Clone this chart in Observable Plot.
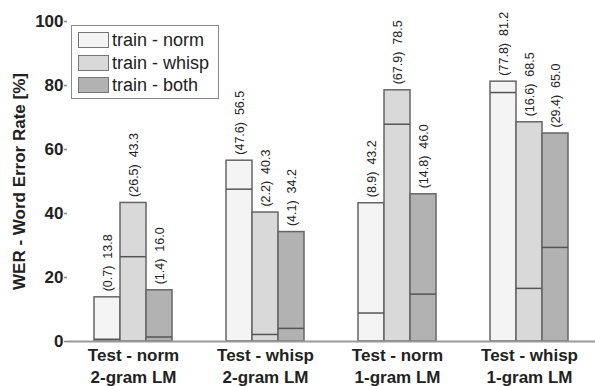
<!DOCTYPE html>
<html>
<head>
<meta charset="utf-8">
<script src="https://cdn.jsdelivr.net/npm/d3@7"></script>
<script src="https://cdn.jsdelivr.net/npm/@observablehq/plot@0.6"></script>
<style>
  html, body { margin: 0; padding: 0; background: #fff; }
  #wrap { position: relative; width: 595px; height: 386px; font-family: Arial, "Liberation Sans", sans-serif; }
  #legend { position: absolute; left: 71px; top: 25px; width: 146px; height: 72px; border: 1.5px solid #8a8a8a; background: #fff; }
  .row { position: absolute; left: 6px; height: 18px; display: flex; align-items: center; }
  .sw { width: 31px; height: 16px; border: 1.5px solid #777; box-sizing: border-box; margin-right: 3px; }
  .lab { font-size: 18px; color: #222; line-height: 18px; }
</style>
</head>
<body>
<div id="wrap"><div id="chart"></div><div id="legend"></div></div>
<script>
const groups = ["Test - norm\n2-gram LM", "Test - whisp\n2-gram LM", "Test - norm\n1-gram LM", "Test - whisp\n1-gram LM"];
const series = ["train - norm", "train - whisp", "train - both"];
const totals = [[13.8, 43.3, 16.0], [56.5, 40.3, 34.2], [43.2, 78.5, 46.0], [81.2, 68.5, 65.0]];
const subs = [[0.7, 26.5, 1.4], [47.6, 2.2, 4.1], [8.9, 67.9, 14.8], [77.8, 16.6, 29.4]];
const yTicks = [0, 20, 40, 60, 80, 100];
const colors = ["#f4f4f4", "#d9d9d9", "#b2b2b2"];

const data = [];
groups.forEach((g, i) => series.forEach((s, j) => data.push({group: g, series: s, total: totals[i][j], sub: subs[i][j]})));

const chart = Plot.plot({
  width: 595, height: 386,
  marginLeft: 67, marginRight: 0, marginTop: 21, marginBottom: 45,
  style: {fontFamily: "Arial, 'Liberation Sans', sans-serif", color: "#222", background: "#fff"},
  fx: {domain: groups, padding: 0, label: null},
  x: {domain: series, paddingInner: 0, paddingOuter: 0.99, axis: null},
  y: {domain: [0, 100], label: null},
  color: {domain: series, range: colors},
  marks: [
    Plot.barY(data, {fx: "group", x: "series", y: "total", fill: "series", stroke: "#666", strokeWidth: 1.5}),
    Plot.tickY(data, {fx: "group", x: "series", y: "sub", stroke: "#555", strokeWidth: 1.5}),
    Plot.text(data, {fx: "group", x: "series", y: "total", text: d => `(${d.sub.toFixed(1)})  ${d.total.toFixed(1)}`,
      rotate: -90, textAnchor: "start", dy: -6, fontSize: 12.5, fill: "#222"}),
    Plot.ruleY([0], {stroke: "#999", strokeWidth: 2}),
    Plot.axisY({ticks: yTicks, tickSize: 3, tickPadding: 1, line: true, stroke: "#888", strokeWidth: 1.5,
      fontSize: 17, fontWeight: "bold", label: "WER - Word Error Rate [%]", labelAnchor: "center", labelOffset: 55, labelArrow: false}),
    Plot.axisFx({anchor: "bottom", tickSize: 0, tickPadding: 4, fontSize: 17, fontWeight: "bold", lineHeight: 1.3, label: null})
  ]
});
document.getElementById("chart").appendChild(chart);

const legend = document.getElementById("legend");
series.forEach((s, j) => {
  const row = document.createElement("div");
  row.className = "row";
  row.style.top = (5 + j * 22.5) + "px";
  row.innerHTML = `<div class="sw" style="background:${colors[j]}"></div><div class="lab">${s}</div>`;
  legend.appendChild(row);
});
</script>
</body>
</html>
